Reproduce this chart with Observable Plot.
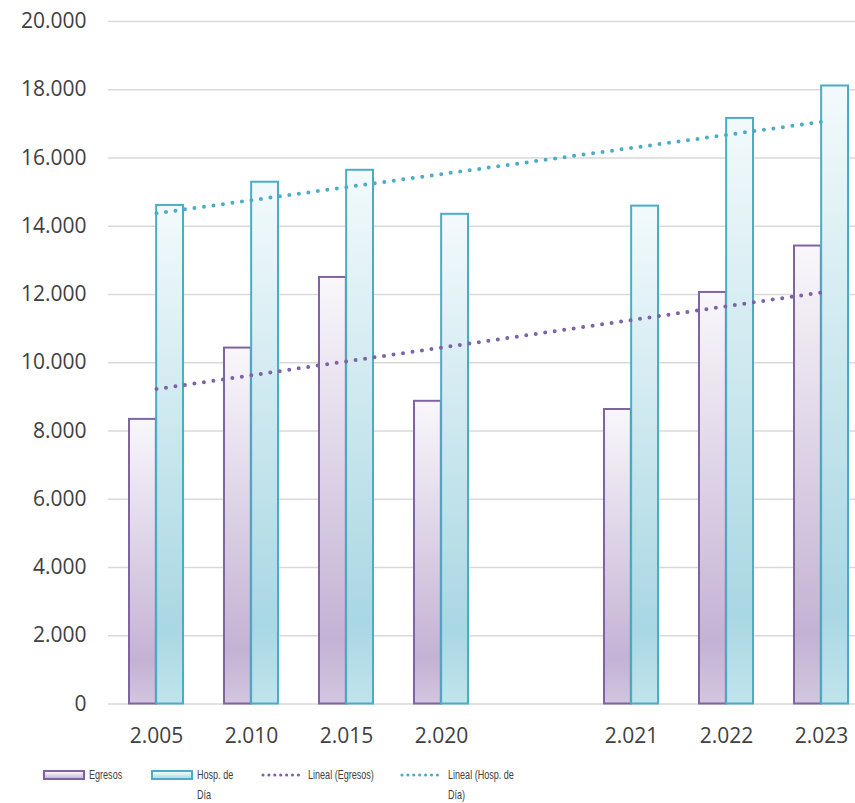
<!DOCTYPE html>
<html>
<head>
<meta charset="utf-8">
<script src="https://cdn.jsdelivr.net/npm/d3@7"></script>
<script src="https://cdn.jsdelivr.net/npm/@observablehq/plot@0.6"></script>
<style>
  body { margin: 0; background: #fff; }
  #wrap { position: relative; width: 855px; height: 803px; overflow: hidden; background: #fff; }
  #chart { position: absolute; left: 0; top: 0; }
  .sw { position: absolute; box-sizing: border-box; height: 10px; width: 42px; border: 2px solid; }
  .lt { position: absolute; font-family: "Liberation Sans", Arial, sans-serif; font-size: 13.5px; line-height: 20px;
        color: #404040; transform: scaleX(0.67); transform-origin: left center; white-space: nowrap; }
  .ld { position: absolute; }
</style>
</head>
<body>
<svg width="0" height="0" style="position:absolute">
  <defs>
    <linearGradient id="gE" x1="0" y1="0" x2="0" y2="1">
      <stop offset="0" stop-color="#f9f7fb"/>
      <stop offset="0.85" stop-color="#c4b2d4"/>
      <stop offset="1" stop-color="#d2c6df"/>
    </linearGradient>
    <linearGradient id="gH" x1="0" y1="0" x2="0" y2="1">
      <stop offset="0" stop-color="#f3fafc"/>
      <stop offset="0.85" stop-color="#a9d7e3"/>
      <stop offset="1" stop-color="#c1e4ec"/>
    </linearGradient>
  </defs>
</svg>
<div id="wrap">
  <div id="chart"></div>
  <div id="legend"></div>
</div>
<script>
// ---- Data ----
const categories = ["2.005", "2.010", "2.015", "2.020", " ", "2.021", "2.022", "2.023"];
const egresos    = [8340, 10430, 12500, 8870, null, 8630, 12060, 13420];
const hospDia    = [14610, 15290, 15640, 14350, null, 14590, 17160, 18110];
const seriesNames = ["Egresos", "Hosp. de Día", "Lineal (Egresos)", "Lineal (Hosp. de Día)"];
const trendCats     = ["2.005", "2.023"];
const trendEgresos  = [9230, 12060];
const trendHospDia  = [14380, 17060];
const yTicks = [0, 2000, 4000, 6000, 8000, 10000, 12000, 14000, 16000, 18000, 20000];

// ---- Tables ----
const rows = categories.map((c, i) => ({cat: c, egresos: egresos[i], hosp: hospDia[i]}))
  .filter(d => d.egresos != null);
const trendE = trendCats.map((c, i) => ({cat: c, v: trendEgresos[i]}));
const trendH = trendCats.map((c, i) => ({cat: c, v: trendHospDia[i]}));

const fmt = v => d3.format(",")(v).replace(/,/g, ".");

const W = 855, H = 757;
const rangeX = [108, 870];
const padInner = 0.43;
const step = (rangeX[1] - rangeX[0]) / categories.length;
const half = step * (1 - padInner) / 2;

const purple = "#8064a2", teal = "#4bacc6";

const plot = Plot.plot({
  width: W,
  height: H,
  marginLeft: 108,
  marginRight: 0,
  marginTop: 21,
  marginBottom: H - 703.5,
  style: {fontFamily: "'Open Sans', sans-serif", fontSize: "21px", color: "#404040", background: "transparent", overflow: "hidden"},
  x: {domain: categories, range: rangeX, paddingInner: padInner, paddingOuter: padInner / 2,
      label: null, tickSize: 0, tickPadding: 24},
  y: {domain: [0, 20000], ticks: yTicks, tickFormat: fmt, label: null, tickSize: 0, tickPadding: 22},
  marks: [
    Plot.ruleY(yTicks, {stroke: "#d9d9d9", strokeWidth: 1.6}),
    Plot.barY(rows, {x: "cat", y: "egresos", fill: "url(#gE)", stroke: purple, strokeWidth: 2, insetRight: half}),
    Plot.barY(rows, {x: "cat", y: "hosp", fill: "url(#gH)", stroke: teal, strokeWidth: 2, insetLeft: half}),
    Plot.line(trendE, {x: "cat", y: "v", stroke: "#7e62a6", strokeWidth: 4, strokeDasharray: "0 9.58", strokeLinecap: "round"}),
    Plot.line(trendH, {x: "cat", y: "v", stroke: "#4aadc7", strokeWidth: 4, strokeDasharray: "0 9.58", strokeLinecap: "round"})
  ]
});
plot.querySelectorAll("text").forEach(t => { t.style.fontSize = "21px"; });
document.getElementById("chart").appendChild(plot);

// ---- Legend ----
const lg = document.getElementById("legend");
const items = [
  {type: "sw", x: 43, tx: 89, name: seriesNames[0], color: purple, grad: "linear-gradient(#f9f7fb, #c8b8d9)"},
  {type: "sw", x: 151, tx: 197, name: seriesNames[1], color: teal, grad: "linear-gradient(#f3fafc, #b0dbe6)"},
  {type: "ln", x: 261, tx: 308, name: seriesNames[2], color: "#7e62a6"},
  {type: "ln", x: 400, tx: 448, name: seriesNames[3], color: "#4aadc7"}
];
items.forEach(it => {
  if (it.type === "sw") {
    const s = document.createElement("div");
    s.className = "sw";
    s.style.left = it.x + "px"; s.style.top = "770px";
    s.style.borderColor = it.color; s.style.background = it.grad;
    lg.appendChild(s);
  } else {
    const ns = "http://www.w3.org/2000/svg";
    const s = document.createElementNS(ns, "svg");
    s.setAttribute("class", "ld");
    s.setAttribute("width", 40); s.setAttribute("height", 8);
    s.style.left = it.x + "px"; s.style.top = "771px";
    const l = document.createElementNS(ns, "line");
    l.setAttribute("x1", 2); l.setAttribute("x2", 38); l.setAttribute("y1", 4); l.setAttribute("y2", 4);
    l.setAttribute("stroke", it.color); l.setAttribute("stroke-width", 3.2);
    l.setAttribute("stroke-linecap", "round"); l.setAttribute("stroke-dasharray", "0 5.9");
    s.appendChild(l);
    lg.appendChild(s);
  }
  const t = document.createElement("div");
  t.className = "lt";
  t.style.left = it.tx + "px"; t.style.top = "765px";
  const parts = it.name.match(/^(.*?de) (Día\)?)$/);
  if (parts) { t.innerHTML = parts[1] + "<br>" + parts[2]; } else { t.textContent = it.name; }
  lg.appendChild(t);
});
</script>
</body>
</html>
